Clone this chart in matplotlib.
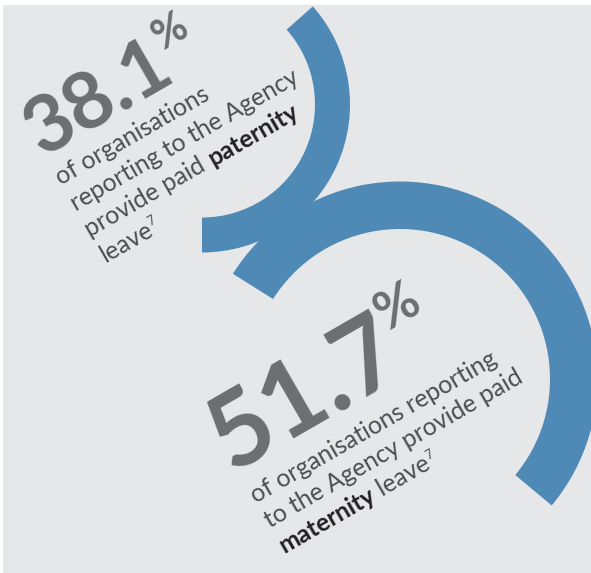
"""Infographic: share of organisations providing paid parental leave (two arcs)."""

import numpy as np
import matplotlib.pyplot as plt
from matplotlib.patches import Wedge, Rectangle

shares = [38.1, 51.7]
leave_types = ["paternity", "maternity"]
# arc sweeps in degrees as drawn in the original artwork
arc_sweep = [131.5, 187.6]

BLUE = "#4F89B6"
BG = "#E6E7E9"
NUM_GREY = "#6D6E71"
TXT_GREY = "#4D4D4F"
DARK = "#231F20"
ANGLE = 30

W, H = 591, 573
fig = plt.figure(figsize=(W / 100, H / 100), dpi=100, facecolor="white")
ax = fig.add_axes([0, 0, 1, 1])
ax.set_xlim(0, W)
ax.set_ylim(H, 0)
ax.axis("off")

ax.add_patch(Rectangle((3, 5), W - 3, H - 5, facecolor=BG, edgecolor="none", zorder=0))

# arcs: (center, outer radius, width, visual start angle)
arcs = [((202, 104.5), 148, 35, -90.0), ((400, 379), 197.5, 47.5, -39.8)]
for (c, r, w, start), sweep in zip(arcs, arc_sweep):
    end = start + sweep
    # y axis is inverted, so visual angles flip sign
    ax.add_patch(Wedge(c, r, -end, -start, width=w, facecolor=BLUE,
                       edgecolor="none", zorder=1))

renderer = fig.canvas.get_renderer()
cos_a, sin_a = np.cos(np.radians(ANGLE)), np.sin(np.radians(ANGLE))


def text_width(s, **kw):
    t = ax.text(0, 0, s, **kw)
    wd = t.get_window_extent(renderer).width
    t.remove()
    return wd


def put_run(x, y, parts):
    """Write pieces of text one after another along a rotated baseline."""
    for s, kw, rise in parts:
        rx, ry = x - rise * sin_a, y - rise * cos_a
        ax.text(rx, ry, s, rotation=ANGLE, rotation_mode="anchor",
                ha="left", va="baseline", zorder=3, **kw)
        wd = text_width(s, **kw)
        x += wd * cos_a
        y -= wd * sin_a
    return x, y


def put_lines(x, y, lines, spacing):
    for i, parts in enumerate(lines):
        put_run(x + i * spacing * sin_a, y + i * spacing * cos_a, parts)


num_kw = dict(family="Lato", fontweight="bold", color=NUM_GREY)
body_kw = dict(family="Lato", fontweight="normal", color=TXT_GREY, fontsize=17.8)
bold_kw = dict(family="Lato", fontweight="bold", color=DARK, fontsize=17.8)
sup_kw = dict(family="Lato", fontweight="normal", color=TXT_GREY, fontsize=9)

# top block: paternity
put_run(42, 158, [(f"{shares[0]}", dict(num_kw, fontsize=57), 0),
                  ("%", dict(num_kw, fontsize=30), 33)])
put_lines(61, 186, [
    [("of organisations", body_kw, 0)],
    [("reporting to the Agency", body_kw, 0)],
    [("provide paid ", body_kw, 0), (leave_types[0], bold_kw, 0)],
    [("leave", body_kw, 0), ("7", sup_kw, 9)],
], 29.5)

# bottom block: maternity
put_run(231, 472, [(f"{shares[1]}", dict(num_kw, fontsize=75), 0),
                   ("%", dict(num_kw, fontsize=38), 44)])
put_lines(256, 504, [
    [("of organisations reporting", body_kw, 0)],
    [("to the Agency provide paid", body_kw, 0)],
    [(leave_types[1], bold_kw, 0), (" leave", body_kw, 0), ("7", sup_kw, 9)],
], 28.5)

fig.savefig("out.png", dpi=100, facecolor="white")
